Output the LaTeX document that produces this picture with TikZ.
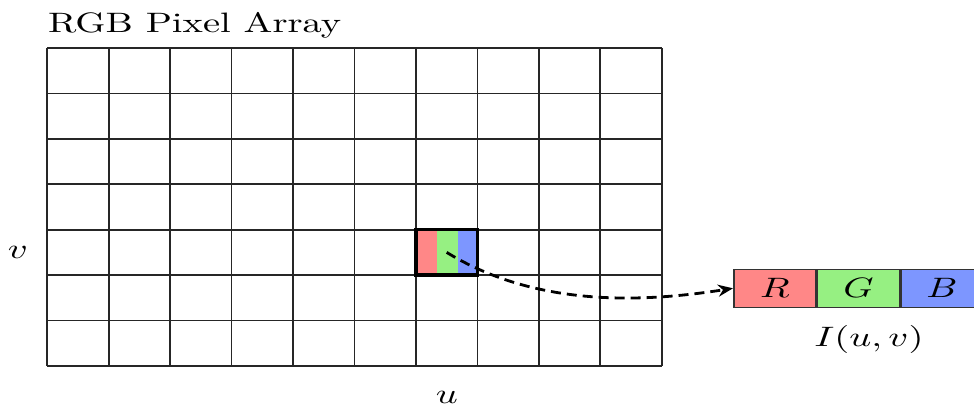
\documentclass[tikz,border=0pt]{standalone}
\usetikzlibrary{arrows.meta}
\definecolor{pr}{RGB}{255,135,135}
\definecolor{pg}{RGB}{150,240,130}
\definecolor{pb}{RGB}{125,150,255}
\newcommand\stretchtxt[1]{\scalebox{3.85}[2.81]{#1}}
\begin{document}
\begin{tikzpicture}[x=1pt,y=-1pt,
  gridline/.style={line width=1.7pt, black!85},
  txt/.style={inner sep=0pt},
  chan/.style={draw=black!80,line width=1.6pt,minimum width=82pt,minimum height=38pt,inner sep=0pt},
  conn/.style={line width=2.8pt, dash pattern=on 10pt off 6pt, -{Stealth[length=15pt,width=12pt]}}]
\clip (0,0) rectangle (974,407);
\fill[white] (0,0) rectangle (974,407);
% grid
\foreach \i in {0,...,10} \draw[gridline] ({47.3+61.44*\i},48) -- ({47.3+61.44*\i},366);
\foreach \j in {0,...,7} \draw[gridline] (47.3,{48+45.43*\j}) -- (661.7,{48+45.43*\j});
% highlighted pixel
\fill[pr] (416.0,229.7) rectangle (437,275.1);
\fill[pg] (437,229.7) rectangle (458,275.1);
\fill[pb] (458,229.7) rectangle (477.4,275.1);
\node[draw,line width=3.5pt,minimum width=61.4pt,minimum height=45.4pt,inner sep=0pt] (px) at (446.7,252.4) {};
% RGB vector
\node[chan,fill=pr,anchor=north west] (R) at (733,268.5) {\stretchtxt{$R$}};
\node[chan,fill=pg,anchor=west] (G) at (R.east) {\stretchtxt{$G$}};
\node[chan,fill=pb,anchor=west] (B) at (G.east) {\stretchtxt{$B$}};
% labels
\node[txt,anchor=base west] (title) at (48,32) {\stretchtxt{RGB Pixel Array}};
\node[txt] (vl) at (18,252) {\stretchtxt{$v$}};
\node[txt] (ul) at (447,397.5) {\stretchtxt{$u$}};
\node[txt] (Il) at (869,339) {\stretchtxt{$I(u,v)$}};
% connector
\draw[conn] (px.center) .. controls +(93,57) and +(-83,13) .. (R.west);
\end{tikzpicture}
\end{document}
